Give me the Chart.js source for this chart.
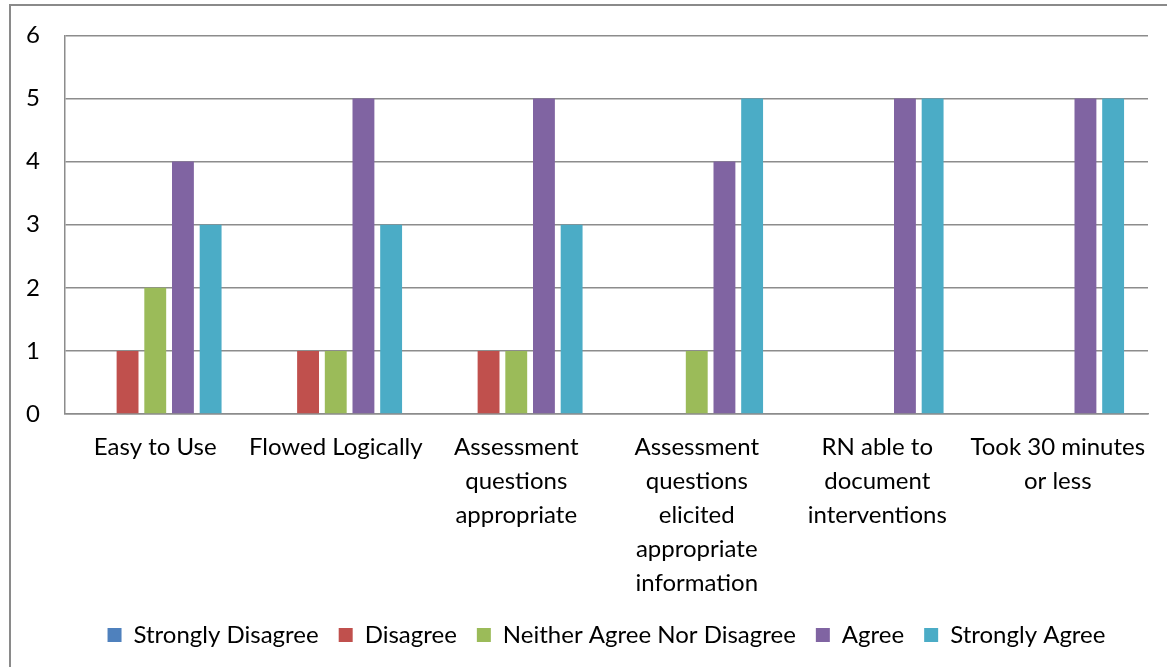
<!DOCTYPE html>
<html>
<head>
<meta charset="utf-8">
<script src="https://cdn.jsdelivr.net/npm/chart.js@4/dist/chart.umd.min.js"></script>
<style>
  html, body { margin: 0; padding: 0; background: #fff; }
  #wrap { position: relative; width: 1167px; height: 667px; overflow: hidden; }
  #frame { position: absolute; left: 9px; top: 4px; width: 1300px; height: 800px; border-left: 2px solid #8a8a8a; border-top: 2px solid #8a8a8a; box-sizing: border-box; pointer-events: none; }
  canvas { position: absolute; left: 0; top: -4px; }
</style>
</head>
<body>
<div id="wrap">
  <canvas id="c" width="1167" height="671"></canvas>
  <div id="frame"></div>
</div>
<script>
const categories = [
  "Easy to Use",
  "Flowed Logically",
  ["Assessment", "questions", "appropriate"],
  ["Assessment", "questions", "elicited", "appropriate", "information"],
  ["RN able to", "document", "interventions"],
  ["Took 30 minutes", "or less"]
];
const seriesNames = ["Strongly Disagree", "Disagree", "Neither Agree Nor Disagree", "Agree", "Strongly Agree"];
const stronglyDisagree = [0, 0, 0, 0, 0, 0];
const disagree = [1, 1, 1, 0, 0, 0];
const neither = [2, 1, 1, 1, 0, 0];
const agree = [4, 5, 5, 4, 5, 5];
const stronglyAgree = [3, 3, 3, 5, 5, 5];
const yTicks = [0, 1, 2, 3, 4, 5, 6];

const colors = ["#4F81BD", "#C0504D", "#9BBB59", "#8064A2", "#4BACC6"];
const values = [stronglyDisagree, disagree, neither, agree, stronglyAgree];

const font = "Lato, 'Open Sans', sans-serif";

new Chart(document.getElementById('c'), {
  type: 'bar',
  data: {
    labels: categories,
    datasets: seriesNames.map((n, i) => ({
      label: n,
      data: values[i],
      backgroundColor: colors[i],
      borderWidth: 0,
      categoryPercentage: 0.767,
      barPercentage: 0.79
    }))
  },
  options: {
    responsive: false,
    animation: false,
    devicePixelRatio: 1,
    layout: { padding: { top: 28, right: 19, left: 0, bottom: 10 } },
    plugins: {
      tooltip: { enabled: false },
      legend: {
        position: 'bottom',
        fullSize: false,
        labels: {
          font: { family: font, size: 24 },
          color: '#000',
          boxWidth: 14,
          boxHeight: 14,
          padding: 20
        }
      }
    },
    scales: {
      x: {
        grid: { display: false, drawTicks: false },
        border: { display: true, color: '#8c8c8c', width: 1.5 },
        ticks: {
          font: { family: font, size: 24, lineHeight: 1.42 },
          color: '#000',
          padding: 16,
          maxRotation: 0,
          autoSkip: false
        },
        afterFit: (s) => { s.height = 189; }
      },
      y: {
        min: 0,
        max: 6,
        afterBuildTicks: (s) => { s.ticks = yTicks.map(v => ({ value: v })); },
        grid: { color: '#8c8c8c', lineWidth: 1.5, drawTicks: false },
        border: { display: true, color: '#8c8c8c', width: 1.5 },
        ticks: {
          font: { family: font, size: 24 },
          color: '#000',
          padding: 25
        },
        afterFit: (s) => { s.width = 65; }
      }
    }
  }
});
</script>
</body>
</html>
